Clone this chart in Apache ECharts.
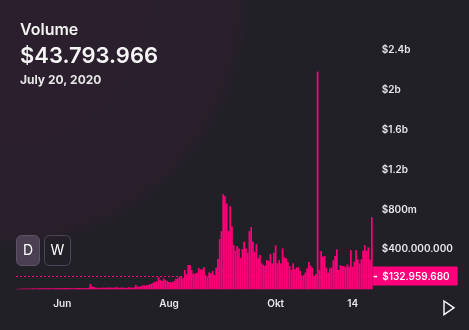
<!DOCTYPE html>
<html>
<head>
<meta charset="utf-8">
<script src="https://cdn.jsdelivr.net/npm/echarts@6/dist/echarts.min.js"></script>
<style>
  html, body { margin: 0; padding: 0; background: #212026; }
  #chart { width: 469px; height: 330px; }
</style>
</head>
<body>
<div id="chart"></div>
<script>
// Daily trading volume, in millions of dollars, one value per day from the start date
const startDate = '2020-05-06';
const dailyVolumeM = [
  4, 6, 5, 7, 6, 8, 7, 9, 8, 10,
  9, 8, 10, 9, 11, 10, 9, 10, 12, 11,
  10, 9, 11, 10, 12, 11, 10, 12, 11, 13,
  12, 11, 10, 12, 11, 13, 12, 11, 12, 13,
  12, 14,
  53, 30, 24,
  17, 15, 16, 14, 18, 16, 15, 17, 19, 16, 15, 17,
  24,
  16, 15, 18, 17, 14, 16, 20, 18, 17, 19,
  43,
  27, 26, 31,
  40, 37, 41, 43.793966,
  52, 55, 66, 75, 78,
  120, 92, 84, 107, 94, 83, 74, 72, 75, 83, 105, 110, 125,
  133, 110, 193, 153, 243, 243, 193, 157, 157, 167,
  213, 200, 200, 220, 143, 127, 170, 160, 183, 143,
  217, 303, 503, 583, 953, 933, 860, 583, 833, 633,
  443, 387, 433, 410, 317, 403, 477, 410, 367, 583,
  623, 477, 377, 453, 310, 343, 260, 247, 237, 293,
  283, 353, 260, 367, 440, 260, 293,
  260, 410, 320, 310, 277, 233, 193, 260, 200, 220,
  220, 183, 137, 143, 167, 210, 273, 237, 217, 133, 153,
  2183,
  193, 383, 327, 333, 217, 167, 210, 220, 290, 333,
  400, 193, 243, 233, 233, 220, 250, 227, 393, 227,
  277, 393, 300, 260, 300, 387, 443, 387, 420, 300,
  723
];

// x axis tick labels
const xTickDates = ['2020-06-01', '2020-08-01', '2020-10-01', '2020-11-14'];
const xTickTexts = ['Jun', 'Aug', 'Okt', '14'];

// y axis tick labels
const yTickValues = [400e6, 800e6, 1.2e9, 1.6e9, 2e9, 2.4e9];
const yTickTexts = ['$400.000.000', '$800m', '$1.2b', '$1.6b', '$2b', '$2.4b'];

// highlighted level and the selected day shown in the header
const guideValue = 132959680;
const selectedDate = '2020-07-20';
const selectedDateText = 'July 20, 2020';

function buildDays(start, n) {
  const out = [];
  const d = new Date(start + 'T00:00:00Z');
  for (let i = 0; i < n; i++) {
    out.push(d.toISOString().slice(0, 10));
    d.setUTCDate(d.getUTCDate() + 1);
  }
  return out;
}

function dotted(n) {
  return '$' + String(Math.round(n)).replace(/\B(?=(\d{3})+(?!\d))/g, '.');
}

const days = buildDays(startDate, dailyVolumeM.length);
const volumes = dailyVolumeM.map(v => v * 1e6);
const selectedValue = volumes[days.indexOf(selectedDate)];

const PINK = '#ff007a';
const AXIS_FONT = { fontFamily: 'Inter', fontSize: 10, fontWeight: 600, color: '#e8e8ea' };

const chart = echarts.init(document.getElementById('chart'), null, { renderer: 'canvas' });

chart.setOption({
  animation: false,
  backgroundColor: {
    type: 'radial', x: 0, y: 0, r: 252, global: true,
    colorStops: [
      { offset: 0, color: '#2b1f2d' },
      { offset: 0.92, color: '#2a1f2c' },
      { offset: 1, color: '#212026' }
    ]
  },
  grid: { left: 16, right: 96.3, top: 50, bottom: 40.7 },
  xAxis: {
    type: 'category',
    data: days,
    axisLine: { show: false },
    axisTick: { show: false },
    axisLabel: Object.assign({
      margin: 9,
      lineHeight: 12,
      interval: (idx, val) => xTickDates.indexOf(val) >= 0,
      formatter: val => xTickTexts[xTickDates.indexOf(val)] || ''
    }, AXIS_FONT)
  },
  yAxis: {
    type: 'value',
    position: 'right',
    min: 0,
    max: 2.4e9,
    interval: 4e8,
    splitLine: { show: false },
    axisLine: { show: false },
    axisTick: { show: false },
    axisLabel: Object.assign({
      margin: 9,
      showMinLabel: false,
      formatter: v => {
        const k = yTickValues.findIndex(t => Math.abs(t - v) < 1);
        return k >= 0 ? yTickTexts[k] : '';
      }
    }, AXIS_FONT)
  },
  series: [{
    type: 'bar',
    data: volumes,
    barCategoryGap: '0%',
    itemStyle: { color: PINK },
    silent: true,
    markLine: {
      silent: true,
      symbol: ['none', 'none'],
      lineStyle: { color: PINK, type: [2, 2], width: 1 },
      label: {
        position: 'end',
        distance: 0,
        backgroundColor: PINK,
        padding: [4, 8, 3, 1],
        formatter: () => '{d|}{v|' + dotted(guideValue) + '}',
        rich: {
          d: { width: 3.5, height: 1.5, backgroundColor: '#ffffff', verticalAlign: 'middle' },
          v: Object.assign({}, AXIS_FONT, { padding: [0, 0, 0, 5], color: '#ffffff', verticalAlign: 'middle', lineHeight: 12 })
        }
      },
      data: [{ yAxis: guideValue }]
    }
  }],
  graphic: [
    { type: 'text', left: 20, top: 22, style: { text: 'Volume', fontFamily: 'Inter', fontSize: 16, fontWeight: 600, fill: '#f2f2f2' } },
    { type: 'text', left: 20, top: 45, style: { text: dotted(selectedValue), fontFamily: 'Inter', fontSize: 22, fontWeight: 600, fill: '#f6f6f6' } },
    { type: 'text', left: 20, top: 74, style: { text: selectedDateText, fontFamily: 'Inter', fontSize: 12, fontWeight: 700, fill: '#e6e6e8' } },
    { type: 'rect', shape: { x: 16.5, y: 235.5, width: 23, height: 30, r: 5 },
      style: { fill: '#4a4052', stroke: '#5d5268', lineWidth: 1 } },
    { type: 'text', x: 28, y: 250.5, style: { text: 'D', fontFamily: 'Inter', fontSize: 14, fill: '#ffffff', align: 'center', verticalAlign: 'middle' } },
    { type: 'rect', shape: { x: 44.5, y: 235.5, width: 26, height: 30, r: 5 },
      style: { fill: 'rgba(0,0,0,0)', stroke: '#4f4558', lineWidth: 1 } },
    { type: 'text', x: 57.5, y: 250.5, style: { text: 'W', fontFamily: 'Inter', fontSize: 14, fill: '#ffffff', align: 'center', verticalAlign: 'middle' } },
    { type: 'polygon', shape: { points: [[444, 301], [454, 307.8], [444, 314.6]] },
      style: { fill: 'rgba(0,0,0,0)', stroke: '#ffffff', lineWidth: 1.4 } }
  ]
});
</script>
</body>
</html>
